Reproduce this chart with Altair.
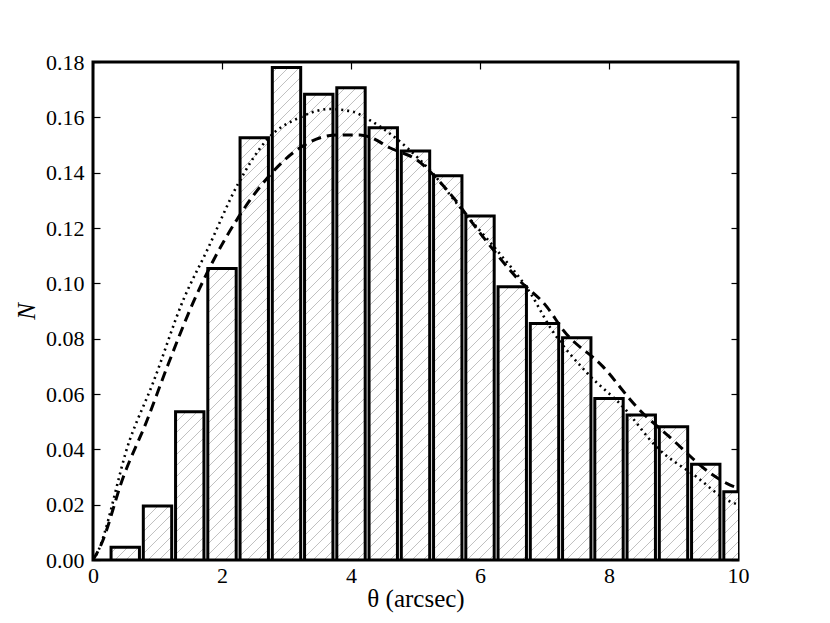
import altair as alt
import pandas as pd
import numpy as np

# Histogram (bin centres and normalised counts)
bin_centers = [0.5, 1.0, 1.5, 2.0, 2.5, 3.0, 3.5, 4.0, 4.5, 5.0,
               5.5, 6.0, 6.5, 7.0, 7.5, 8.0, 8.5, 9.0, 9.5, 10.0]
bin_values = [0.0046, 0.0195, 0.0536, 0.1054, 0.1526, 0.178, 0.1683, 0.1707, 0.1562, 0.1478,
              0.1389, 0.1243, 0.0988, 0.0855, 0.0803, 0.0584, 0.0524, 0.0482, 0.0346, 0.0247]

# Dotted curve
dot_x = [0.0, 0.03, 0.57, 0.93, 1.40, 1.77, 2.25, 2.70, 3.21, 3.67, 4.03, 4.29, 4.87,
         5.22, 5.74, 6.26, 6.78, 7.09, 7.66, 8.22, 8.74, 9.36, 9.83, 10.0]
dot_y = [0.0, 0.001, 0.0434, 0.064, 0.094, 0.112, 0.136, 0.152, 0.160, 0.163, 0.162, 0.159, 0.149,
         0.141, 0.126, 0.112, 0.0965, 0.084, 0.0676, 0.0553, 0.0408, 0.030, 0.0217, 0.0200]

# Dashed curve
dash_x = [0.0, 0.11, 0.47, 0.84, 1.15, 1.55, 1.86, 2.23, 2.70, 3.21, 3.78, 4.14, 4.29, 4.60,
          5.02, 5.49, 6.05, 6.57, 7.04, 7.29, 7.91, 8.43, 8.99, 9.57, 9.88, 10.0]
dash_y = [0.0, 0.0047, 0.030, 0.0506, 0.0698, 0.0929, 0.108, 0.123, 0.138, 0.149, 0.1536, 0.1536,
          0.1529, 0.149, 0.1446, 0.1337, 0.1167, 0.102, 0.0914, 0.0831, 0.0698, 0.0553, 0.0434,
          0.0314, 0.0271, 0.026]

x_ticks = [0, 2, 4, 6, 8, 10]
y_ticks = [0.00, 0.02, 0.04, 0.06, 0.08, 0.10, 0.12, 0.14, 0.16, 0.18]

W, H = 645, 498
XMIN, XMAX = 0, 10
YMIN, YMAX = 0, 0.18
half_w = 0.22

bars = pd.DataFrame({
    "x0": [c - half_w for c in bin_centers],
    "x1": [c + half_w for c in bin_centers],
    "v": bin_values,
})

# hatch segments ("/") computed inside each bar in pixel space
px_per_x = W / (XMAX - XMIN)
px_per_y = H / (YMAX - YMIN)
spacing = 11.0
segs = []
for c0, v in zip(bin_centers, bin_values):
    a = (c0 - half_w) * px_per_x
    b = min(c0 + half_w, XMAX) * px_per_x
    hh = v * px_per_y
    c = np.floor((a - hh) / spacing) * spacing
    while c <= b:
        lo = max(a, c)
        hi = min(b, c + hh)
        if hi - lo > 0.5:
            segs.append({"hx": lo / px_per_x, "hy": (lo - c) / px_per_y,
                         "hx2": hi / px_per_x, "hy2": (hi - c) / px_per_y})
        c += spacing
hatch = pd.DataFrame(segs)

dotted = pd.DataFrame({"x": dot_x, "y": dot_y})
dashed = pd.DataFrame({"x": dash_x, "y": dash_y})

FONT = "Liberation Serif"
xscale = alt.Scale(domain=[XMIN, XMAX], nice=False, zero=False)
yscale = alt.Scale(domain=[YMIN, YMAX], nice=False)

tick_common = dict(domain=False, grid=False, ticks=True, tickSize=7, tickWidth=1.2,
                   tickColor="black", offset=-7, labelFlush=False)

x_bottom = alt.Axis(values=x_ticks, format="d", title="θ (arcsec)",
                    labelFontSize=22, labelColor="black", labelPadding=5,
                    titleFontSize=25, titleFontWeight="normal",
                    titleColor="black", titlePadding=0, orient="bottom", **tick_common)
y_left = alt.Axis(values=y_ticks, format=".2f", title="N",
                  labelFontSize=22, labelColor="black", labelPadding=9,
                  titleFontSize=25, titleFontWeight="normal",
                  titleFontStyle="italic", titleColor="black", titlePadding=6,
                  orient="left", **tick_common)
x_top = alt.Axis(values=x_ticks, labels=False, title=None, orient="top", **tick_common)
y_right = alt.Axis(values=y_ticks, labels=False, title=None, orient="right", **tick_common)

fill_layer = alt.Chart(bars).mark_rect(fill="white", clip=True).encode(
    x=alt.X("x0:Q", scale=xscale, axis=x_bottom),
    x2="x1:Q",
    y=alt.Y("v:Q", scale=yscale, axis=y_left),
    y2=alt.datum(0),
)

hatch_layer = alt.Chart(hatch).mark_rule(stroke="#b0b0b0", strokeWidth=0.8, clip=True).encode(
    x=alt.X("hx:Q", scale=xscale, axis=None),
    y=alt.Y("hy:Q", scale=yscale, axis=None),
    x2="hx2:Q",
    y2="hy2:Q",
)

outline_layer = alt.Chart(bars).mark_rect(fillOpacity=0, stroke="black", strokeWidth=3,
                                          clip=True).encode(
    x=alt.X("x0:Q", scale=xscale, axis=None),
    x2="x1:Q",
    y=alt.Y("v:Q", scale=yscale, axis=None),
    y2=alt.datum(0),
)

dotted_layer = alt.Chart(dotted).mark_line(color="black", strokeWidth=2.6,
                                           strokeDash=[2, 4], interpolate="monotone",
                                           clip=True).encode(
    x=alt.X("x:Q", scale=xscale, axis=x_top),
    y=alt.Y("y:Q", scale=yscale, axis=y_right),
)

dashed_layer = alt.Chart(dashed).mark_line(color="black", strokeWidth=3,
                                           strokeDash=[10, 6], interpolate="monotone",
                                           clip=True).encode(
    x=alt.X("x:Q", scale=xscale, axis=None),
    y=alt.Y("y:Q", scale=yscale, axis=None),
)

chart = alt.layer(fill_layer, hatch_layer, outline_layer, dotted_layer, dashed_layer).resolve_axis(
    x="independent", y="independent"
).properties(
    width=W, height=H,
    autosize=alt.AutoSizeParams(type="none"),
    padding={"left": 85, "top": 54, "right": 84, "bottom": 55},
    background="white",
).configure(
    font=FONT
).configure_axis(
    labelFont=FONT, titleFont=FONT
).configure_view(
    stroke="black", strokeWidth=3
)

chart.save("out.html", embed_options={"renderer": "svg", "actions": False})
